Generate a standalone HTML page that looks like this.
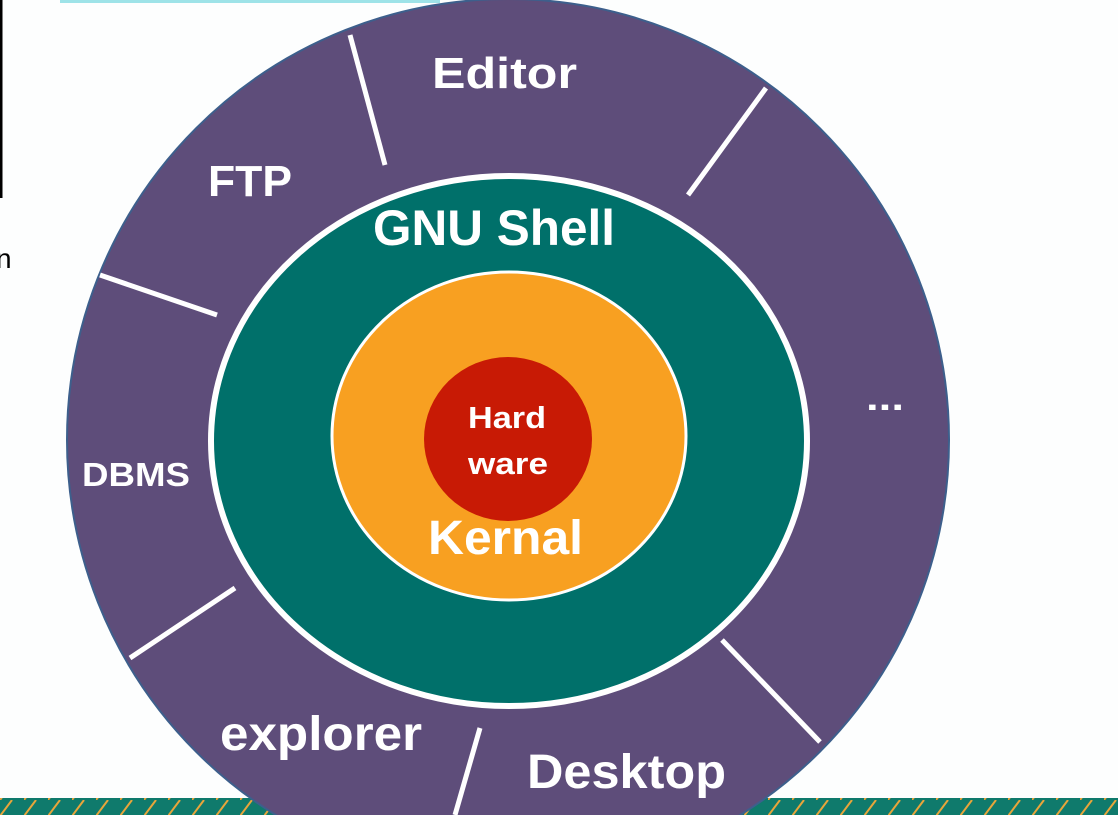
<!DOCTYPE html>
<html><head><style>
html,body{margin:0;padding:0;background:#fdfefe;width:1118px;height:815px;overflow:hidden}
svg{display:block}
text{font-family:"Liberation Sans",sans-serif;font-weight:bold;fill:#fff}
</style></head><body>
<svg width="1118" height="815" viewBox="0 0 1118 815">
<defs>
<pattern id="p" width="24" height="16" patternUnits="userSpaceOnUse">
<rect width="24" height="16" fill="#0f7a6c"/>
<line x1="0" y1="16" x2="12" y2="0" stroke="#e8a53a" stroke-width="2"/>
</pattern>
</defs>
<rect x="0" y="798" width="1118" height="17" fill="url(#p)"/>
<line x1="1" y1="0" x2="1" y2="198" stroke="#000" stroke-width="3"/>
<text x="-4" y="268" style="font-weight:normal;fill:#000;font-size:28px">n</text>
<rect x="60" y="0" width="380" height="3" fill="#5fd0d8" opacity="0.6"/>
<circle cx="508" cy="440" r="441" fill="#5e4d7a" stroke="#3d5f8c" stroke-width="2"/>
<g stroke="#fff" stroke-width="5">
<line x1="350" y1="35" x2="385" y2="165"/>
<line x1="766" y1="88" x2="688" y2="195"/>
<line x1="100" y1="275" x2="217" y2="315"/>
<line x1="130" y1="658" x2="235" y2="588"/>
<line x1="820" y1="742" x2="722" y2="640"/>
<line x1="480" y1="728" x2="455" y2="815"/>
</g>
<ellipse cx="509" cy="441" rx="298" ry="265" fill="#00706a" stroke="#fff" stroke-width="6"/>
<ellipse cx="509" cy="436" rx="177" ry="164" fill="#f8a021" stroke="#fff" stroke-width="3"/>
<ellipse cx="508" cy="439" rx="84" ry="82" fill="#c81a05"/>
<text x="432" y="88" font-size="44" textLength="145" lengthAdjust="spacingAndGlyphs">Editor</text>
<text x="208" y="196" font-size="44" textLength="84" lengthAdjust="spacingAndGlyphs">FTP</text>
<text x="82" y="486" font-size="33" textLength="108" lengthAdjust="spacingAndGlyphs">DBMS</text>
<text x="220" y="750" font-size="48" textLength="202" lengthAdjust="spacingAndGlyphs">explorer</text>
<text x="527" y="788" font-size="48" textLength="199" lengthAdjust="spacingAndGlyphs">Desktop</text>
<text x="866" y="410" font-size="36" textLength="38" lengthAdjust="spacingAndGlyphs">...</text>
<text x="373" y="245" font-size="50" textLength="242" lengthAdjust="spacingAndGlyphs">GNU Shell</text>
<text x="468" y="428" font-size="31" textLength="78" lengthAdjust="spacingAndGlyphs">Hard</text>
<text x="468" y="474" font-size="31" textLength="80" lengthAdjust="spacingAndGlyphs">ware</text>
<text x="428" y="554" font-size="48" textLength="155" lengthAdjust="spacingAndGlyphs">Kernal</text>
</svg>
</body></html>
